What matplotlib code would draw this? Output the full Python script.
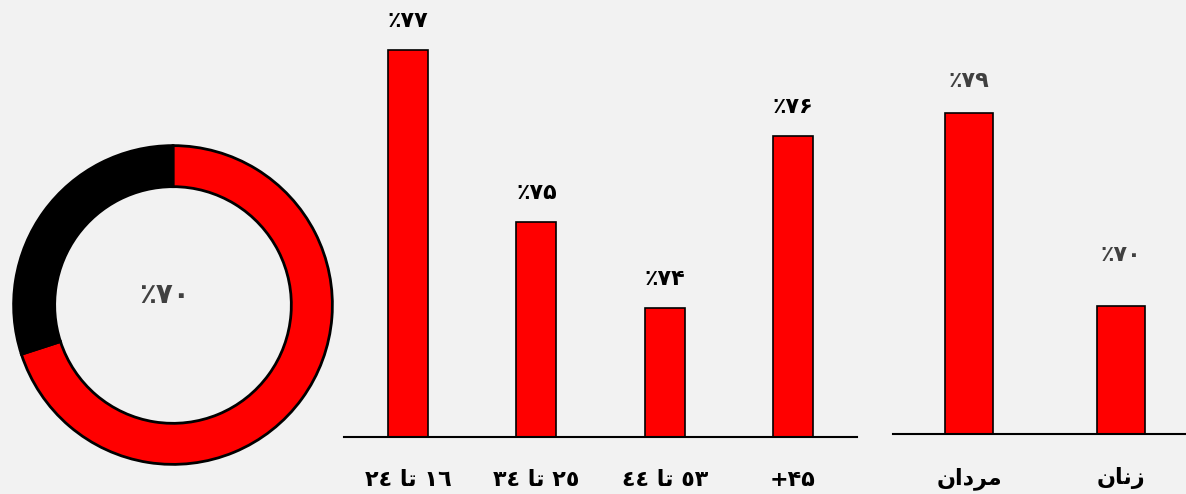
import matplotlib
matplotlib.use('Agg')
import matplotlib.pyplot as plt

# matplotlib does no Arabic shaping, so labels are stored already shaped
# (presentation forms) and in visual left-to-right order
age_labels = ['٢٤ ﺎﺗ ١٦', '٣٤ ﺎﺗ ٢٥', '٤٤ ﺎﺗ ٥٣', '+۴۵']
age_values = [77, 75, 74, 76]
gender_labels = ['ﻥﺍﺩﺮﻣ', 'ﻥﺎﻧﺯ']
gender_values = [79, 70]
total_value = 70

BG = '#f2f2f2'
RED = '#ff0000'
GREY = '#404040'
FA_DIGITS = str.maketrans('0123456789', '۰۱۲۳۴۵۶۷۸۹')


def pct(v):
    return '٪' + str(v).translate(FA_DIGITS)


plt.rcParams['font.family'] = ['DejaVu Sans']

W, H = 1186, 494
fig = plt.figure(figsize=(W / 100, H / 100), dpi=100, facecolor=BG)

# donut
cx, cy, r = 173, 305, 161
ax0 = fig.add_axes([(cx - r) / W, (H - cy - r) / H, 2 * r / W, 2 * r / H])
ax0.set_facecolor(BG)
ax0.pie([total_value, 100 - total_value], colors=[RED, 'black'], startangle=90,
        counterclock=False, radius=0.99,
        wedgeprops=dict(width=0.255, edgecolor='black', linewidth=2))
ax0.set_xlim(-1, 1)
ax0.set_ylim(-1, 1)
ax0.set_aspect('equal')
ax0.axis('off')
ax0.text(-0.05, 0.06, pct(total_value), ha='center', va='center', fontsize=20,
         fontweight='bold', color=GREY)

# age groups
ax1 = fig.add_axes([344 / W, 57 / H, 513 / W, 437 / H])
ax1.set_facecolor(BG)
x1 = range(len(age_values))
ax1.bar(x1, age_values, width=0.31, color=RED, edgecolor='black', linewidth=1.2)
ax1.set_xlim(-0.5, len(age_values) - 0.5)
ax1.set_ylim(72.5, 72.5 + 437 / 86)
for i, v in enumerate(age_values):
    ax1.annotate(pct(v), (i, v), xytext=(0, 14), textcoords='offset points',
                 ha='center', va='bottom', fontsize=16, fontweight='bold')
ax1.set_xticks(list(x1))
ax1.set_xticklabels(age_labels, fontsize=16, fontweight='bold')

# men / women
ax2 = fig.add_axes([893 / W, 60 / H, 304 / W, 434 / H])
ax2.set_facecolor(BG)
x2 = range(len(gender_values))
ax2.bar(x2, gender_values, width=0.31, color=RED, edgecolor='black', linewidth=1.2)
ax2.set_xlim(-0.5, len(gender_values) - 0.5)
ax2.set_ylim(64, 64 + 434 / 21.4)
for i, (v, gap) in enumerate(zip(gender_values, [16, 29])):
    ax2.annotate(pct(v), (i, v), xytext=(0, gap), textcoords='offset points',
                 ha='center', va='bottom', fontsize=16, fontweight='bold',
                 color=GREY)
ax2.set_xticks(list(x2))
ax2.set_xticklabels(gender_labels, fontsize=16, fontweight='bold')

for ax in (ax1, ax2):
    for s in ('top', 'left', 'right'):
        ax.spines[s].set_visible(False)
    ax.spines['bottom'].set_linewidth(1.5)
    ax.set_yticks([])
    ax.tick_params(axis='x', length=0, pad=24)

fig.savefig('out.png', facecolor=BG)
